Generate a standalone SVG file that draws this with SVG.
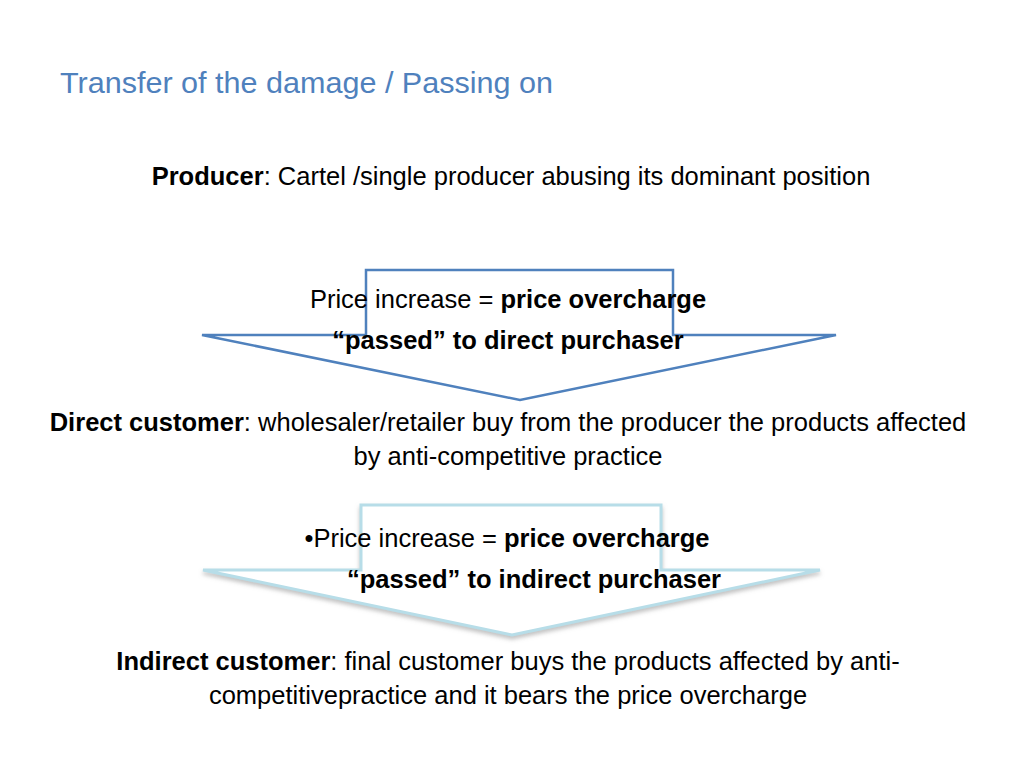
<svg xmlns="http://www.w3.org/2000/svg" width="1024" height="768" viewBox="0 0 1024 768">
<style>
text{font-family:"Liberation Sans",Arial,sans-serif;font-size:25.5px;fill:#000;text-anchor:middle}
.b{font-weight:bold}
.t{font-size:30px;fill:#4f81bd;text-anchor:start}
</style>
<defs>
<filter id="sh" x="-5%" y="-10%" width="110%" height="130%"><feDropShadow dx="0" dy="3" stdDeviation="2" flood-color="#999" flood-opacity="0.6"/></filter>
</defs>
<rect width="1024" height="768" fill="#fff"/>
<text class="t" x="60" y="93" textLength="493" lengthAdjust="spacingAndGlyphs">Transfer of the damage / Passing on</text>
<g id="producer"><text x="511" y="185"><tspan class="b">Producer</tspan>: Cartel /single producer abusing its dominant position</text></g>
<g id="connectors">
<polygon id="arrow1" points="366,270 673,270 673,335 836,335 520,400 202,335 366,335" fill="#fff" stroke="#4f81bd" stroke-width="2.5"/>
<polygon id="arrow2" points="361,505 661,505 661,570 820,570 512,635 203,570 361,570" fill="#fff" stroke="#b7dde8" stroke-width="3" filter="url(#sh)"/>
</g>
<g id="label1"><text x="508" y="308">Price increase = <tspan class="b">price overcharge</tspan></text>
<text class="b" x="508" y="349">“passed” to direct purchaser</text></g>
<g id="direct"><text x="508" y="431"><tspan class="b">Direct customer</tspan>: wholesaler/retailer buy from the producer the products affected</text>
<text x="508" y="465">by anti-competitive practice</text></g>
<g id="label2"><text x="507" y="547">•Price increase = <tspan class="b">price overcharge</tspan></text>
<text class="b" x="534" y="588">“passed” to indirect purchaser</text></g>
<g id="indirect"><text x="508" y="670"><tspan class="b">Indirect customer</tspan>: final customer buys the products affected by anti-</text>
<text x="508" y="704">competitivepractice and it bears the price overcharge</text></g>
</svg>
